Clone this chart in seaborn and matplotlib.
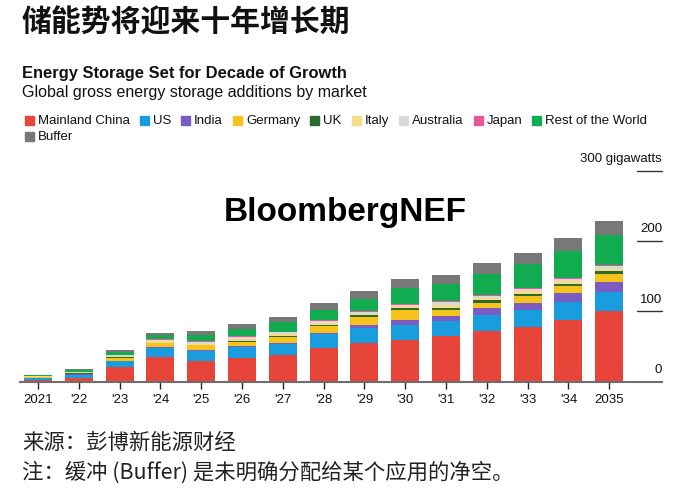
import numpy as np
import pandas as pd
import matplotlib.pyplot as plt
import seaborn as sns
from matplotlib.patches import Rectangle

# values, gigawatts
years = ['2021', "'22", "'23", "'24", "'25", "'26", "'27", "'28",
         "'29", "'30", "'31", "'32", "'33", "'34", '2035']
china = [2.0, 5.7, 21.4, 35.7, 29.5, 33.8, 38.1, 48.6, 55.7, 60.0, 65.2, 71.4, 77.6, 87.6, 100.0]
us = [3.5, 4.3, 7.7, 12.9, 14.8, 15.7, 15.7, 18.6, 21.0, 20.5, 21.0, 23.3, 24.3, 26.2, 27.6]
india = [0.3, 0.4, 0.5, 1.0, 1.0, 1.4, 1.4, 2.4, 4.3, 6.7, 7.6, 9.5, 10.5, 12.9, 14.8]
germany = [0.8, 1.2, 4.8, 4.8, 6.2, 6.2, 8.1, 10.0, 11.4, 14.3, 8.6, 8.4, 9.3, 9.3, 10.3]
uk = [0.3, 0.4, 0.4, 0.5, 0.5, 1.0, 1.4, 0.5, 1.9, 2.8, 2.9, 3.0, 3.0, 3.5, 4.0]
italy = [0.7, 1.1, 1.3, 2.6, 2.3, 3.0, 2.8, 3.4, 2.6, 2.8, 4.0, 3.6, 3.6, 3.6, 3.9]
australia = [0.6, 1.0, 1.2, 2.3, 2.1, 2.7, 2.5, 3.0, 2.3, 2.5, 3.6, 3.3, 3.3, 3.3, 3.4]
japan = [0.2, 0.3, 0.4, 0.8, 0.8, 1.0, 0.9, 1.2, 0.8, 0.9, 1.4, 1.2, 1.2, 1.2, 1.3]
rest = [1.2, 2.5, 4.8, 6.2, 8.6, 10.0, 13.8, 14.3, 17.6, 23.3, 24.3, 30.0, 34.3, 38.6, 43.3]
buffer = [0.4, 0.8, 1.9, 2.9, 6.7, 7.6, 7.6, 10.0, 11.9, 12.4, 13.8, 15.2, 16.2, 18.6, 20.5]

markets = ['Mainland China', 'US', 'India', 'Germany', 'UK', 'Italy',
           'Australia', 'Japan', 'Rest of the World', 'Buffer']
colors = ['#e8453a', '#1a9ddf', '#7b5cc3', '#f6c21c', '#2e6a2c', '#f5dc86',
          '#d9d9d9', '#e6579c', '#11ab50', '#787878']

df = pd.DataFrame(dict(zip(markets, [china, us, india, germany, uk, italy,
                                     australia, japan, rest, buffer])))
cum = df.cumsum(axis=1)
cum['year'] = years

sns.set_theme(style='white')
plt.rcParams['font.family'] = ['Liberation Sans', 'Noto Sans CJK SC']
cjk = ['Noto Sans CJK SC', 'Liberation Sans']

W, H = 693, 498
fig = plt.figure(figsize=(W / 100, H / 100), dpi=100)


def fx(px):
    return px / W


def fy(py):
    return 1 - py / H


ax = fig.add_axes([fx(20), fy(381.7), (662 - 20) / W, (381.7 - 170.7) / H])

# stacked bars: draw cumulative totals from the top layer down
for m, c in zip(reversed(markets), reversed(colors)):
    sns.barplot(data=cum, x='year', y=m, color=c, width=0.69,
                saturation=1, linewidth=0, edgecolor='none', ax=ax)

ax.set_xlim((20 - 38) / 40.8, (662 - 38) / 40.8)
ax.set_ylim(0, 300)
ax.set_xlabel('')
ax.set_ylabel('')
ax.set_yticks([])
for s in ['top', 'left', 'right']:
    ax.spines[s].set_visible(False)
ax.spines['bottom'].set_color('#6e6e6e')
ax.spines['bottom'].set_linewidth(1.5)
ax.tick_params(axis='x', bottom=True, length=5, width=1, color='#222',
               pad=4, labelsize=9.5, labelcolor='#111')

ytr = ax.get_yaxis_transform()
for v, lab in [(0, '0'), (100, '100'), (200, '200'), (300, '300 gigawatts')]:
    if v > 0:
        ax.plot([0.961, 1.0], [v, v], transform=ytr, color='#333', lw=1,
                clip_on=False)
    ax.annotate(lab, (1.0, v), xycoords=ytr, xytext=(0, 8.4),
                textcoords='offset points', ha='right', va='center',
                fontsize=9.5, color='#111')

# titles
fig.text(fx(22), fy(22), '储能势将迎来十年增长期', family=cjk, weight='bold',
         fontsize=21.5, va='center', color='#111')
fig.text(fx(22), fy(73), 'Energy Storage Set for Decade of Growth',
         weight='bold', fontsize=11.9, va='center', color='#111')
fig.text(fx(22), fy(93), 'Global gross energy storage additions by market',
         fontsize=11.5, va='center', color='#111')

fig.text(fx(345), fy(213), 'BloombergNEF', ha='center', va='center',
         fontsize=24, weight='bold', color='#000')

# legend, laid out left to right with wrapping
renderer = fig.canvas.get_renderer()
x, y = 25, 121
for m, c in zip(markets, colors):
    if m == 'Buffer':
        x, y = 25, 137
    fig.patches.append(Rectangle((fx(x), fy(y + 4.5)), 9 / W, 9 / H,
                                 transform=fig.transFigure, color=c))
    t = fig.text(fx(x + 13), fy(y), m, fontsize=9.5, va='center', color='#111')
    x = x + 13 + t.get_window_extent(renderer).width + 10

fig.text(fx(22), fy(443), '来源：彭博新能源财经', family=cjk, fontsize=15.4,
         va='center', color='#222')
fig.text(fx(22), fy(473), '注：缓冲 (Buffer) 是未明确分配给某个应用的净空。',
         family=cjk, fontsize=15.4, va='center', color='#222')

fig.savefig('out.png', dpi=100)
